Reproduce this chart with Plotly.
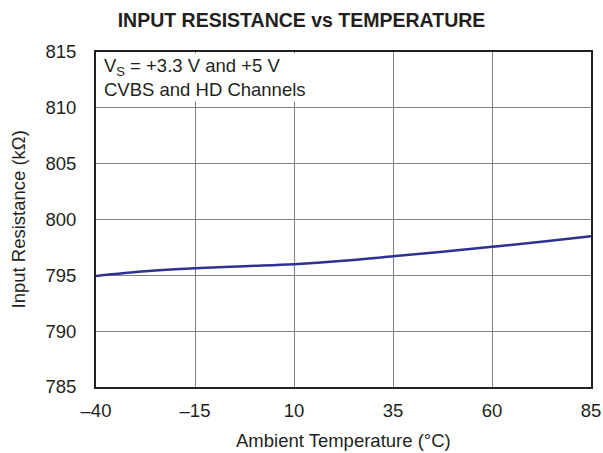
import plotly.graph_objects as go

temps = [-40, -27.5, -15, -2.5, 10, 22.5, 35, 47.5, 60, 72.5, 85]
resistance = [794.95, 795.36, 795.63, 795.82, 796.0, 796.3, 796.7, 797.12, 797.55, 798.0, 798.5]

x_ticks = [-40, -15, 10, 35, 60, 85]
x_labels = ["\u201340", "\u201315", "10", "35", "60", "85"]
y_ticks = [785, 790, 795, 800, 805, 810, 815]

fig = go.Figure()
fig.add_trace(go.Scatter(x=temps, y=resistance, mode="lines",
                         line=dict(color="#2e3192", width=2.5, shape="spline"),
                         showlegend=False))

fs = 18.5

fig.update_layout(
    width=603, height=453,
    margin=dict(l=96, r=12, t=52, b=66, autoexpand=False),
    paper_bgcolor="white", plot_bgcolor="white",
    font=dict(family="Liberation Sans, Arial, sans-serif", size=fs, color="#231f20"),
    title=dict(text="<b>INPUT RESISTANCE vs TEMPERATURE</b>", x=0.5, xanchor="center",
               y=1 - 20 / 453, yanchor="middle", font=dict(size=19.5, color="#231f20")),
    xaxis=dict(range=[-40, 85], tickvals=x_ticks, ticktext=x_labels,
               showgrid=True, gridcolor="#808080", gridwidth=1,
               showline=True, linecolor="#231f20", linewidth=2, mirror=True,
               ticks="", zeroline=False, tickfont=dict(size=fs), automargin=False,
               ticklabelstandoff=6),
    yaxis=dict(range=[785, 815], tickvals=y_ticks,
               showgrid=True, gridcolor="#808080", gridwidth=1,
               showline=True, linecolor="#231f20", linewidth=2, mirror=True,
               ticks="", zeroline=False, tickfont=dict(size=fs), automargin=False,
               ticklabelstandoff=14),
)

fig.add_annotation(xref="paper", yref="paper", x=0.012, y=0.998, xanchor="left", yanchor="top",
                   text="V<sub>S</sub> = +3.3 V and +5 V<br>CVBS and HD Channels",
                   showarrow=False, align="left", font=dict(size=fs, color="#231f20"),
                   bgcolor="white")

fig.add_annotation(xref="paper", yref="paper", x=0.5, y=-53 / 335, xanchor="center", yanchor="middle",
                   text="Ambient Temperature (\u00b0C)", showarrow=False,
                   font=dict(size=fs, color="#231f20"))
fig.add_annotation(xref="paper", yref="paper", x=-78 / 495, y=0.5, xanchor="center", yanchor="middle",
                   text="Input Resistance (k\u03a9)", showarrow=False, textangle=-90,
                   font=dict(size=fs, color="#231f20"))

fig.write_html("out.html", config={"displayModeBar": False})

with open("out.html", "r", encoding="utf-8") as f:
    html = f.read()
html = html.replace("<body>", '<body style="margin:0;padding:0;overflow:hidden">', 1)
with open("out.html", "w", encoding="utf-8") as f:
    f.write(html)
